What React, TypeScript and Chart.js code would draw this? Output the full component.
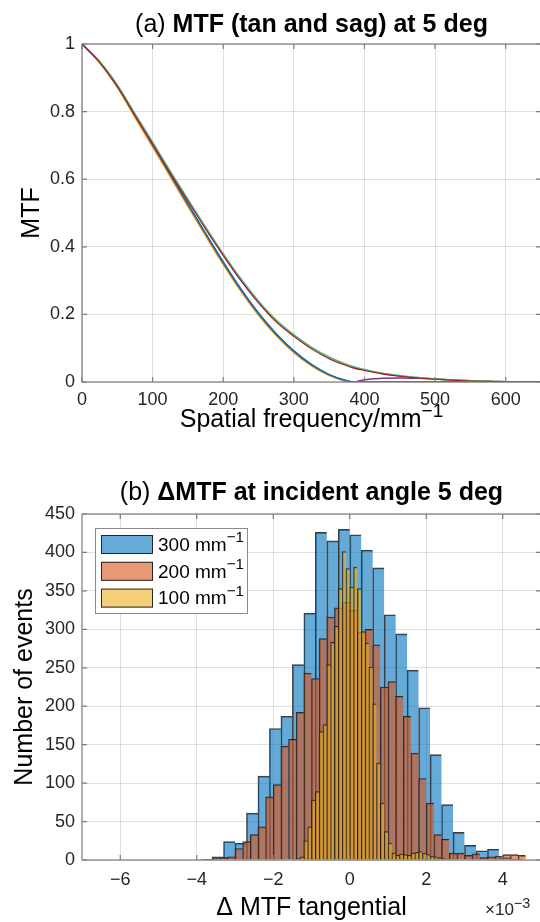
import React, { useEffect, useRef } from 'react';
import { Chart, registerables } from 'chart.js';

Chart.register(...registerables);

const FONT = '"Liberation Sans", Arial, Helvetica, sans-serif';
const GRID = 'rgba(38,38,38,0.14)';
const AXIS = '#7d7d7d';
const TICK = '#262626';

// ---------------- Panel (a): MTF curves ----------------
const freq = [0, 25, 50, 75, 100, 125, 150, 175, 200, 225, 250, 275, 300, 325, 350, 375, 385, 400, 425, 450, 475, 500, 525, 550, 575, 600, 625, 650];
const mtfBlue = [1.0, 0.947, 0.876, 0.79, 0.703, 0.615, 0.527, 0.44, 0.355, 0.275, 0.204, 0.143, 0.092, 0.052, 0.022, 0.004, 0, 0, 0, 0, 0, 0, 0, 0, 0, 0, 0, 0];
const mtfOrange = [1.0, 0.946, 0.874, 0.787, 0.7, 0.612, 0.524, 0.437, 0.352, 0.272, 0.201, 0.14, 0.09, 0.05, 0.021, 0.003, 0, 0, 0, 0, 0, 0, 0, 0, 0, 0, 0, 0];
const mtfYellow = [1.0, 0.944, 0.871, 0.783, 0.695, 0.607, 0.519, 0.432, 0.347, 0.268, 0.197, 0.137, 0.087, 0.048, 0.019, 0.002, 0, 0, 0, 0, 0, 0, 0, 0, 0, 0, 0, 0];
const mtfPurple = [1.0, 0.946, 0.874, 0.788, 0.701, 0.613, 0.525, 0.438, 0.353, 0.273, 0.202, 0.141, 0.091, 0.051, 0.021, 0.003, 0, 0.007, 0.011, 0.012, 0.011, 0.009, 0.006, 0.004, 0.002, 0.001, 0, 0];
const mtfGreen = [1.0, 0.947, 0.877, 0.791, 0.707, 0.621, 0.538, 0.456, 0.377, 0.303, 0.237, 0.181, 0.138, 0.101, 0.072, 0.051, 0.044, 0.036, 0.025, 0.018, 0.013, 0.009, 0.006, 0.004, 0.002, 0.001, 0.0005, 0];
const mtfLightBlue = [1.0, 0.948, 0.879, 0.794, 0.71, 0.624, 0.541, 0.459, 0.38, 0.306, 0.24, 0.184, 0.14, 0.103, 0.074, 0.052, 0.045, 0.037, 0.026, 0.019, 0.013, 0.009, 0.006, 0.004, 0.002, 0.001, 0.0005, 0];
const mtfDarkRed = [1.0, 0.946, 0.875, 0.789, 0.704, 0.618, 0.535, 0.453, 0.374, 0.3, 0.234, 0.178, 0.135, 0.098, 0.069, 0.048, 0.041, 0.034, 0.024, 0.017, 0.012, 0.008, 0.005, 0.003, 0.002, 0.001, 0.0005, 0];
const ticksA_x = [0, 100, 200, 300, 400, 500, 600];
const ticksA_y = [0, 0.2, 0.4, 0.6, 0.8, 1];

// ---------------- Panel (b): ΔMTF histograms (×10⁻³) ----------------
const start300 = -3.9;
const width300 = 0.3;
const counts300 = [1, 4, 24, 22, 61, 109, 171, 187, 254, 321, 426, 415, 430, 423, 403, 380, 319, 294, 247, 198, 137, 72, 36, 19, 12, 14, 3, 1];
const start200 = -3.8;
const width200 = 0.2;
const counts200 = [1, 2, 3, 4, 15, 24, 33, 43, 82, 98, 148, 157, 192, 243, 236, 288, 316, 328, 335, 325, 296, 300, 280, 225, 232, 213, 187, 139, 106, 74, 33, 27, 9, 9, 6, 8, 3, 4, 5, 7, 7, 6];
const start100 = -1.5;
const width100 = 0.1;
const counts100 = [1, 2, 4, 25, 43, 78, 89, 167, 176, 254, 283, 304, 353, 401, 379, 355, 381, 353, 297, 282, 251, 203, 126, 74, 37, 22, 9, 6, 8, 7, 6, 9, 10, 11, 9, 7, 5, 4, 3, 2, 1];
const labels = ['300 mm⁻¹', '200 mm⁻¹', '100 mm⁻¹'];
const ticksB_x = [-6, -4, -2, 0, 2, 4];
const ticksB_y = [0, 50, 100, 150, 200, 250, 300, 350, 400, 450];

const pts = (ys: number[]) => ys.map((y, i) => ({ x: freq[i], y }));
const bins = (start: number, w: number, counts: number[]) =>
  counts.map((c, i) => ({ x: Math.round((start + w * (i + 0.5)) * 10000) / 10000, y: c }));
const setTicks = (vals: number[]) => (s: any) => {
  s.ticks = vals.map((value) => ({ value }));
};

const SUP: Record<string, string> = { '⁻': '−', '¹': '1', '²': '2', '³': '3' };
function drawRich(ctx: CanvasRenderingContext2D, text: string, x: number, y: number, size: number, supScale = 0.8, center = false, raise = 0.38) {
  const runs: { t: string; sup: boolean }[] = [];
  for (const ch of text) {
    const sup = ch in SUP;
    const c = sup ? SUP[ch] : ch;
    const last = runs[runs.length - 1];
    if (last && last.sup === sup) last.t += c;
    else runs.push({ t: c, sup });
  }
  const supSize = size * supScale;
  const widths = runs.map((r) => {
    ctx.font = `${r.sup ? supSize : size}px ${FONT}`;
    return ctx.measureText(r.t).width;
  });
  const total = widths.reduce((a, b) => a + b, 0);
  let cx = center ? x - total / 2 : x;
  ctx.textAlign = 'left';
  ctx.textBaseline = 'middle';
  runs.forEach((r, i) => {
    ctx.font = `${r.sup ? supSize : size}px ${FONT}`;
    ctx.fillText(r.t, cx, r.sup ? y - size * raise : y);
    cx += widths[i];
  });
}

const panelTitle = {
  id: 'panelTitle',
  afterDraw(chart: any, _a: any, opts: any) {
    const { ctx, chartArea } = chart;
    const parts = opts.parts as { text: string; bold: boolean }[];
    ctx.save();
    ctx.fillStyle = '#000';
    ctx.textBaseline = 'middle';
    ctx.textAlign = 'left';
    const widths = parts.map((p) => {
      ctx.font = `${p.bold ? 'bold ' : ''}${opts.size}px ${FONT}`;
      return ctx.measureText(p.text).width;
    });
    const total = widths.reduce((a: number, b: number) => a + b, 0);
    let x = (chartArea.left + chartArea.right) / 2 - total / 2;
    parts.forEach((p, i) => {
      ctx.font = `${p.bold ? 'bold ' : ''}${opts.size}px ${FONT}`;
      ctx.fillText(p.text, x, opts.y);
      x += widths[i];
    });
    if (opts.xLabel) {
      drawRich(ctx, opts.xLabel, (chartArea.left + chartArea.right) / 2, chartArea.bottom + opts.xLabelOffset, 25, 0.76, true, 0.34);
    }
    ctx.restore();
  },
};

const frame = {
  id: 'frame',
  afterDatasetsDraw(chart: any, _a: any, opts: any) {
    const { ctx, chartArea, scales } = chart;
    const { left, right, top, bottom } = chartArea;
    ctx.save();
    ctx.strokeStyle = AXIS;
    ctx.lineWidth = 1.2;
    ctx.strokeRect(left, top, right - left, bottom - top);
    const len = 5;
    ctx.beginPath();
    scales.x.ticks.forEach((t: any) => {
      const px = scales.x.getPixelForValue(t.value);
      ctx.moveTo(px, bottom);
      ctx.lineTo(px, bottom - len);
      ctx.moveTo(px, top);
      ctx.lineTo(px, top + len);
    });
    scales.y.ticks.forEach((t: any) => {
      const py = scales.y.getPixelForValue(t.value);
      ctx.moveTo(left, py);
      ctx.lineTo(left + len, py);
      ctx.moveTo(right, py);
      ctx.lineTo(right - len, py);
    });
    ctx.stroke();
    if (opts.exponent) {
      ctx.fillStyle = TICK;
      drawRich(ctx, opts.exponent, right - 56, bottom + 50, 17, 0.85);
    }
    ctx.restore();
  },
};

const boxLegend = {
  id: 'boxLegend',
  afterDraw(chart: any, _a: any, opts: any) {
    if (!opts.show) return;
    const { ctx, chartArea } = chart;
    const x0 = chartArea.left + 13;
    const y0 = chartArea.top + 14;
    ctx.save();
    ctx.fillStyle = '#fff';
    ctx.fillRect(x0, y0, 152, 85);
    ctx.strokeStyle = '#8a8a8a';
    ctx.lineWidth = 1;
    ctx.strokeRect(x0 + 0.5, y0 + 0.5, 152, 85);
    chart.data.datasets.forEach((ds: any, i: number) => {
      const cy = y0 + 16.5 + i * 26.8;
      ctx.fillStyle = ds.backgroundColor;
      ctx.fillRect(x0 + 6, cy - 9.5, 52, 19);
      ctx.strokeStyle = '#262626';
      ctx.lineWidth = 1;
      ctx.strokeRect(x0 + 6.5, cy - 9, 51, 18);
      ctx.fillStyle = '#000';
      drawRich(ctx, ds.label, x0 + 63, cy + 1, 19, 0.8);
    });
    ctx.restore();
  },
};

const axisFont = (size: number) => ({ family: FONT, size });

function configA(): any {
  return {
    type: 'line',
    data: {
      datasets: [
        { label: 'darkred', data: pts(mtfDarkRed), borderColor: '#A2142F', borderWidth: 1.1 },
        { label: 'green', data: pts(mtfGreen), borderColor: '#77AC30' },
        { label: 'lightblue', data: pts(mtfLightBlue), borderColor: '#4DBEEE' },
        { label: 'blue', data: pts(mtfBlue), borderColor: '#0072BD' },
        { label: 'orange', data: pts(mtfOrange), borderColor: '#D95319' },
        { label: 'yellow', data: pts(mtfYellow), borderColor: '#EDB120' },
        { label: 'purple', data: pts(mtfPurple), borderColor: '#7E2F8E' },
      ],
    },
    options: {
      animation: false,
      responsive: true,
      maintainAspectRatio: false,
      events: [],
      layout: { padding: { top: 44, right: 7, left: 0, bottom: 0 } },
      elements: {
        point: { radius: 0 },
        line: { borderWidth: 1.5, cubicInterpolationMode: 'monotone', fill: false },
      },
      plugins: {
        legend: { display: false },
        tooltip: { enabled: false },
        panelTitle: {
          y: 25,
          size: 25,
          parts: [
            { text: '(a) ', bold: false },
            { text: 'MTF (tan and sag) at 5 deg', bold: true },
          ],
          xLabel: 'Spatial frequency/mm⁻¹',
          xLabelOffset: 38,
        },
        frame: {},
      },
      scales: {
        x: {
          type: 'linear',
          min: 0,
          max: 650,
          afterFit: (s: any) => { s.height = 78; },
          afterBuildTicks: setTicks(ticksA_x),
          grid: { color: GRID, drawTicks: false },
          border: { display: false },
          ticks: { padding: 7, color: TICK, font: axisFont(18), maxRotation: 0 },
          title: { display: false },
        },
        y: {
          type: 'linear',
          min: 0,
          max: 1,
          afterFit: (s: any) => { s.width = 82; },
          afterBuildTicks: setTicks(ticksA_y),
          grid: { color: GRID, drawTicks: false },
          border: { display: false },
          ticks: { padding: 7, color: TICK, font: axisFont(18), callback: (v: number) => String(Math.round(v * 10) / 10) },
          title: { display: true, text: 'MTF', color: '#000', font: axisFont(25), padding: { top: 17, bottom: 0 } },
        },
      },
    },
    plugins: [panelTitle, frame],
  };
}

function configB(): any {
  const hiddenX = () => ({
    type: 'linear',
    min: -7,
    max: 5,
    display: false,
    offset: false,
    grid: { offset: false },
    afterBuildTicks: setTicks(ticksB_x),
  });
  const barCommon = {
    borderColor: 'rgba(25,25,25,0.85)',
    borderWidth: { top: 1, left: 1, right: 0, bottom: 0 },
    borderSkipped: false,
    barPercentage: 1,
    categoryPercentage: 1,
    grouped: false,
  };
  return {
    type: 'bar',
    data: {
      datasets: [
        { ...barCommon, label: labels[0], data: bins(start300, width300, counts300), backgroundColor: 'rgba(0,114,189,0.6)', xAxisID: 'x', order: 3 },
        { ...barCommon, label: labels[1], data: bins(start200, width200, counts200), backgroundColor: 'rgba(217,83,25,0.6)', xAxisID: 'x2', order: 2 },
        { ...barCommon, label: labels[2], data: bins(start100, width100, counts100), backgroundColor: 'rgba(237,177,32,0.6)', xAxisID: 'x3', order: 1 },
      ],
    },
    options: {
      animation: false,
      responsive: true,
      maintainAspectRatio: false,
      events: [],
      layout: { padding: { top: 54, right: 7, left: 0, bottom: 0 } },
      plugins: {
        legend: { display: false },
        tooltip: { enabled: false },
        panelTitle: {
          y: 33,
          size: 25,
          parts: [
            { text: '(b) ', bold: false },
            { text: 'ΔMTF at incident angle 5 deg', bold: true },
          ],
        },
        frame: { exponent: '×10⁻³' },
        boxLegend: { show: true },
      },
      scales: {
        x: {
          type: 'linear',
          min: -7,
          max: 5,
          offset: false,
          afterFit: (s: any) => { s.height = 72; },
          afterBuildTicks: setTicks(ticksB_x),
          grid: { color: GRID, drawTicks: false, offset: false },
          border: { display: false },
          ticks: {
            padding: 9,
            color: TICK,
            font: axisFont(18),
            maxRotation: 0,
            callback: (v: number) => String(v).replace('-', '−'),
          },
          title: { display: true, text: 'Δ MTF tangential', color: '#000', font: axisFont(25), padding: { top: 0, bottom: 9 } },
        },
        x2: hiddenX(),
        x3: hiddenX(),
        y: {
          type: 'linear',
          min: 0,
          max: 450,
          afterFit: (s: any) => { s.width = 82; },
          afterBuildTicks: setTicks(ticksB_y),
          grid: { color: GRID, drawTicks: false },
          border: { display: false },
          ticks: { padding: 7, color: TICK, font: axisFont(18) },
          title: { display: true, text: 'Number of events', color: '#000', font: axisFont(25), padding: { top: 10, bottom: 0 } },
        },
      },
    },
    plugins: [panelTitle, frame, boxLegend],
  };
}

export default function App() {
  const refA = useRef<HTMLCanvasElement>(null);
  const refB = useRef<HTMLCanvasElement>(null);
  useEffect(() => {
    const a = new Chart(refA.current as HTMLCanvasElement, configA());
    const b = new Chart(refB.current as HTMLCanvasElement, configB());
    return () => {
      a.destroy();
      b.destroy();
    };
  }, []);
  return (
    <div style={{ position: 'absolute', left: 0, top: 0, width: 540, height: 922, overflow: 'hidden', background: '#fff' }}>
      <div style={{ position: 'absolute', left: 0, top: 0, width: 548, height: 460 }}>
        <canvas ref={refA} />
      </div>
      <div style={{ position: 'absolute', left: 0, top: 460, width: 548, height: 472 }}>
        <canvas ref={refB} />
      </div>
    </div>
  );
}
